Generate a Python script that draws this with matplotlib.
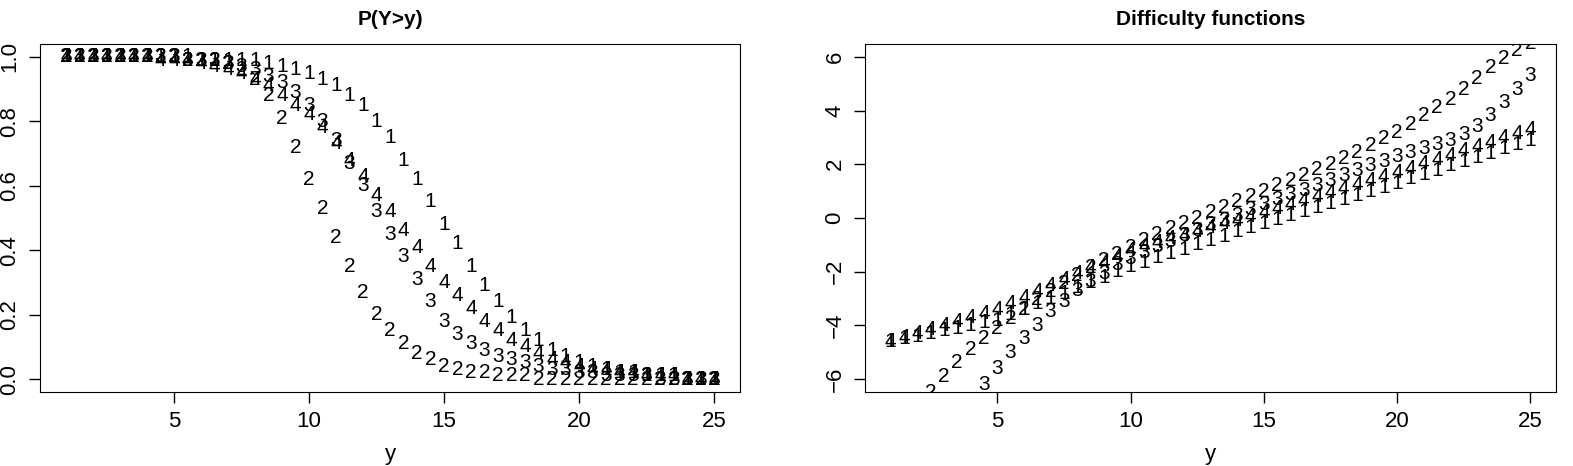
import numpy as np
import matplotlib.pyplot as plt

plt.rcParams['font.family'] = ['Liberation Sans', 'DejaVu Sans']

# grid of y values
y = np.arange(1, 25.01, 0.5)

# P(Y>y)
p1 = [1.00, 1.00, 1.00, 1.00, 1.00, 1.00, 1.00, 1.00, 1.00, 1.00, 0.99, 0.99, 0.99,
      0.99, 0.99, 0.98, 0.97, 0.96, 0.95, 0.93, 0.91, 0.88, 0.85, 0.80, 0.75, 0.68,
      0.62, 0.55, 0.48, 0.42, 0.35, 0.29, 0.24, 0.19, 0.15, 0.12, 0.09, 0.07, 0.05,
      0.04, 0.03, 0.02, 0.02, 0.01, 0.01, 0.01, 0.00, 0.00, 0.00]
p2 = [1.00, 1.00, 1.00, 1.00, 1.00, 1.00, 1.00, 1.00, 1.00, 0.99, 0.99,
      0.99, 0.98, 0.96, 0.93, 0.88, 0.81, 0.72, 0.62, 0.53, 0.44, 0.35, 0.27, 0.20,
      0.15, 0.11, 0.08, 0.06, 0.04, 0.03, 0.02, 0.02, 0.01, 0.01, 0.01,
      0.00, 0.00, 0.00, 0.00, 0.00, 0.00, 0.00, 0.00, 0.00, 0.00, 0.00, 0.00, 0.00, 0.00]
p3 = [1.00, 1.00, 1.00, 1.00, 1.00, 1.00, 1.00, 1.00, 1.00, 0.99, 0.99,
      0.99, 0.98, 0.97, 0.96, 0.94, 0.92, 0.89, 0.85, 0.80, 0.74, 0.67, 0.60, 0.52,
      0.45, 0.38, 0.31, 0.24, 0.18, 0.14, 0.11, 0.09, 0.07, 0.06, 0.05, 0.04, 0.03,
      0.03, 0.02, 0.02, 0.01, 0.01, 0.01, 0.01, 0.00, 0.00, 0.00, 0.00, 0.00]
p4 = [1.00, 1.00, 1.00, 1.00, 1.00, 1.00, 1.00, 0.99, 0.99, 0.99, 0.98,
      0.97, 0.96, 0.95, 0.93, 0.91, 0.88, 0.85, 0.82, 0.78, 0.73, 0.68, 0.63, 0.57,
      0.52, 0.46, 0.41, 0.35, 0.30, 0.26, 0.22, 0.18, 0.15, 0.12, 0.10, 0.08, 0.06,
      0.05, 0.04, 0.03, 0.03, 0.02, 0.02, 0.01, 0.01, 0.01, 0.00, 0.00, 0.00]

# difficulty functions
d1 = [-4.6, -4.5, -4.4, -4.3, -4.2, -4.1, -4.0, -3.9, -3.8,
      -3.6, -3.4, -3.2, -3.0, -2.8, -2.6, -2.4, -2.2, -2.0, -1.8,
      -1.64, -1.48, -1.32, -1.16, -1.0, -0.84, -0.68, -0.52, -0.36, -0.2,
      -0.05, 0.1, 0.25, 0.4, 0.55, 0.7, 0.85, 1.0, 1.15, 1.3,
      1.46, 1.62, 1.78, 1.94, 2.1, 2.26, 2.42, 2.58, 2.74, 2.9]
d2 = [-8.6, -7.9, -7.2, -6.5, -5.9, -5.4, -4.9, -4.5, -4.1, -3.75, -3.4, -3.05,
      -2.75, -2.45, -2.15, -1.85, -1.6, -1.35, -1.1, -0.85, -0.6, -0.4, -0.2, 0.0,
      0.2, 0.4, 0.6, 0.8, 1.0, 1.2, 1.4, 1.6, 1.8, 2.0, 2.2, 2.45, 2.7, 2.95, 3.2,
      3.5, 3.8, 4.1, 4.4, 4.8, 5.2, 5.6, 5.95, 6.25, 6.5]
d3 = [-11.0, -10.2, -9.5, -8.8, -8.1, -7.4, -6.8, -6.2, -5.6, -5.0, -4.5, -4.0,
      -3.5, -3.1, -2.7, -2.35, -2.05, -1.75, -1.5, -1.28, -1.06, -0.86, -0.66, -0.46,
      -0.26, -0.08, 0.1, 0.3, 0.5, 0.68, 0.86, 1.04, 1.22, 1.4, 1.58, 1.76, 1.94,
      2.1, 2.3, 2.45, 2.6, 2.75, 2.9, 3.1, 3.4, 3.8, 4.3, 4.8, 5.3]
d4 = [-4.6, -4.45, -4.3, -4.15, -4.0, -3.85, -3.7, -3.55, -3.4,
      -3.18, -2.96, -2.74, -2.52, -2.3, -2.08, -1.86, -1.64, -1.42, -1.2,
      -1.06, -0.92, -0.78, -0.64, -0.5, -0.36, -0.22, -0.08, 0.06, 0.2,
      0.35, 0.5, 0.65, 0.8, 0.95, 1.1, 1.25, 1.4, 1.55, 1.7,
      1.86, 2.02, 2.18, 2.34, 2.5, 2.66, 2.82, 2.98, 3.14, 3.3]

labels = ['1', '2', '3', '4']

fig = plt.figure(figsize=(15.73, 4.66), dpi=100)
ax1 = fig.add_axes([40 / 1573, 74 / 466, 700 / 1573, 348 / 466])
ax2 = fig.add_axes([865 / 1573, 74 / 466, 691 / 1573, 348 / 466])


def matplot(ax, series):
    # R-style matplot: each point drawn as its series number
    for lab, s in zip(labels, series):
        for xv, yv in zip(y, s):
            ax.text(xv, yv, lab, ha='center', va='center', fontsize=15,
                    clip_on=True)


matplot(ax1, [p1, p2, p3, p4])
matplot(ax2, [d1, d2, d3, d4])

ax1.set_xlim(0.04, 25.96)
ax1.set_ylim(-0.04, 1.04)
ax1.set_yticks([0.0, 0.2, 0.4, 0.6, 0.8, 1.0])
ax1.set_yticklabels(['0.0', '0.2', '0.4', '0.6', '0.8', '1.0'])
ax1.set_title('P(Y>y)', fontweight='bold', fontsize=15, pad=14)

ax2.set_xlim(0.04, 25.96)
ax2.set_ylim(-6.48, 6.48)
ax2.set_yticks([-6, -4, -2, 0, 2, 4, 6])
ax2.set_yticklabels(['\u22126', '\u22124', '\u22122', '0', '2', '4', '6'])
ax2.set_title('Difficulty functions', fontweight='bold', fontsize=15, pad=14)

for ax in (ax1, ax2):
    ax.set_xticks([5, 10, 15, 20, 25])
    ax.set_xlabel('y', fontsize=16, labelpad=8)
    ax.tick_params(labelsize=16, length=8, width=1, pad=6)
    for t in ax.get_yticklabels():
        t.set_rotation(90)
        t.set_va('center')

fig.savefig('out.png', dpi=100)
